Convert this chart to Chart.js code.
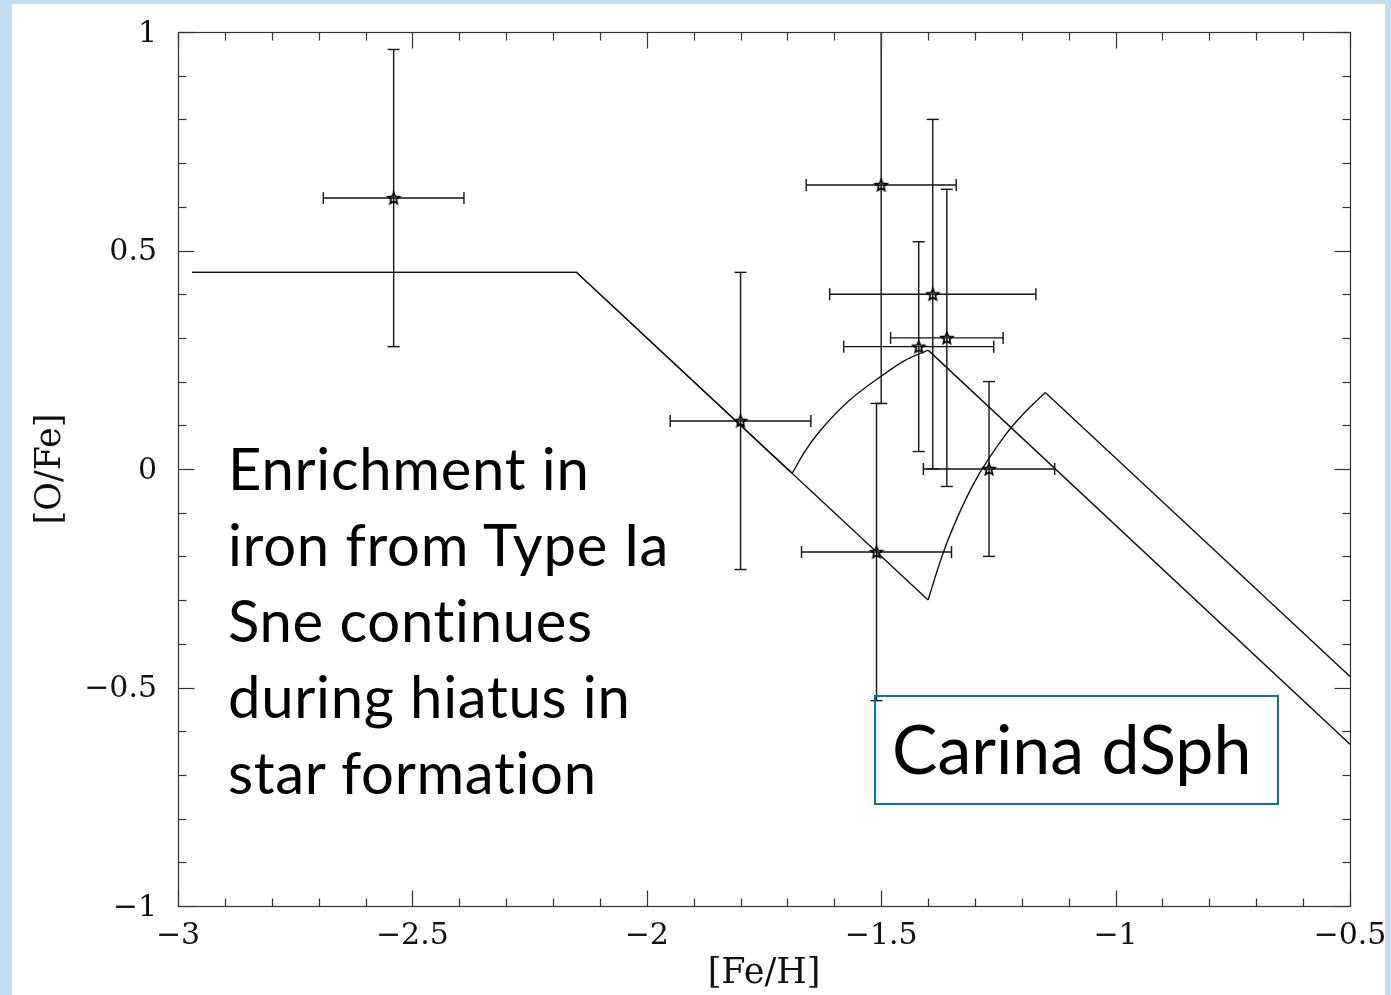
<!DOCTYPE html>
<html>
<head>
<meta charset="utf-8">
<script src="https://cdn.jsdelivr.net/npm/chart.js@4.4.1/dist/chart.umd.min.js"></script>
<style>
html,body{margin:0;padding:0;width:1391px;height:995px;overflow:hidden;background:#c5dbee;}
#paper{position:absolute;left:12px;top:4px;width:1373px;height:991px;background:#ffffff;}
#c{position:absolute;left:0;top:0;}
.note{position:absolute;font-family:Lato,"Open Sans",sans-serif;color:#000;white-space:nowrap;}
#note1{left:228px;top:430px;font-size:58px;line-height:76px;letter-spacing:0.7px;}
#note2{left:874px;top:695px;width:385px;height:106px;border:2px solid #0070c0;font-size:68px;line-height:102px;padding-left:16px;background:transparent;}
</style>
</head>
<body>
<div id="paper"></div>
<canvas id="c" width="1391" height="995"></canvas>
<div class="note" id="note1">Enrichment in<br>iron from Type Ia<br>Sne continues<br>during hiatus in<br>star formation</div>
<div class="note" id="note2">Carina dSph</div>
<script>
// ---- observed stars: [Fe/H], [O/Fe] and their errors ----
const feH    = [-2.54, -1.80, -1.50, -1.51, -1.42, -1.39, -1.36, -1.27];
const oFe    = [ 0.62,  0.11,  0.65, -0.19,  0.28,  0.40,  0.30,  0.00];
const feHErr = [ 0.15,  0.15,  0.16,  0.16,  0.16,  0.22,  0.12,  0.14];
const oFeErr = [ 0.34,  0.34,  0.50,  0.34,  0.24,  0.40,  0.34,  0.20];

// ---- model tracks (straight parts + curved rise after the hiatus) ----
const model1FeH = [-2.97, -2.15, -1.40, -1.38,  -1.357, -1.303, -1.235, -1.195, -1.15, -0.50];
const model1OFe = [ 0.45,  0.45, -0.30, -0.231, -0.161, -0.034,  0.078,  0.128,  0.175, -0.475];
const model1Rise = [2, 8];   // index range of the curved part
const model2FeH = [-2.97, -2.15, -1.69, -1.664, -1.636, -1.57, -1.49, -1.45, -1.40, -0.50];
const model2OFe = [ 0.45,  0.45, -0.01,  0.038,  0.08,   0.155, 0.22,  0.248, 0.272, -0.63];
const model2Rise = [2, 8];

// ---- axis ticks ----
const xTickValues = [-3, -2.5, -2, -1.5, -1, -0.5];
const xTickLabels = ['−3', '−2.5', '−2', '−1.5', '−1', '−0.5'];
const yTickValues = [-1, -0.5, 0, 0.5, 1];
const yTickLabels = ['−1', '−0.5', '0', '0.5', '1'];
const xMinorStep = 0.1, yMinorStep = 0.1;

const INK = '#121212';

function labelFor(values, labels, v){
  const i = values.findIndex(t => Math.abs(t - v) < 1e-6);
  return i >= 0 ? labels[i] : '';
}

function makeStar(r){
  const s = Math.ceil(2*r + 4);
  const c = document.createElement('canvas');
  c.width = s; c.height = s;
  const g = c.getContext('2d');
  g.translate(s/2, s/2 + 0.5);
  g.beginPath();
  for (let i = 0; i < 10; i++){
    const rr = (i % 2) ? r*0.45 : r;
    const a = -Math.PI/2 + i*Math.PI/5;
    g.lineTo(rr*Math.cos(a), rr*Math.sin(a));
  }
  g.closePath();
  g.strokeStyle = '#000'; g.lineWidth = 1.7; g.stroke();
  return c;
}
const starImg = makeStar(6);

const framePlugin = {
  id: 'framePlugin',
  beforeDatasetsDraw(chart){
    const {ctx, chartArea: a, scales: {x, y}} = chart;
    ctx.save();
    ctx.beginPath();
    ctx.rect(a.left, a.top, a.right - a.left, a.bottom - a.top);
    ctx.clip();
    ctx.strokeStyle = INK;
    ctx.lineWidth = 1.4;
    const cap = 6;
    const seg = (x0,y0,x1,y1) => { ctx.beginPath(); ctx.moveTo(x0,y0); ctx.lineTo(x1,y1); ctx.stroke(); };
    for (let i = 0; i < feH.length; i++){
      const px = x.getPixelForValue(feH[i]);
      const py = y.getPixelForValue(oFe[i]);
      const xl = x.getPixelForValue(feH[i] - feHErr[i]);
      const xr = x.getPixelForValue(feH[i] + feHErr[i]);
      const yt = y.getPixelForValue(oFe[i] + oFeErr[i]);
      const yb = y.getPixelForValue(oFe[i] - oFeErr[i]);
      seg(xl, py, xr, py);
      seg(xl, py - cap, xl, py + cap);
      seg(xr, py - cap, xr, py + cap);
      seg(px, yt, px, yb);
      seg(px - cap, yt, px + cap, yt);
      seg(px - cap, yb, px + cap, yb);
    }
    ctx.restore();
  },
  afterDraw(chart){
    const {ctx, chartArea: a, scales: {x, y}} = chart;
    ctx.save();
    ctx.strokeStyle = '#333';
    ctx.lineWidth = 1.2;
    const L = Math.round(a.left) + 0.5, R = Math.round(a.right) + 0.5;
    const T = Math.round(a.top) + 0.5, B = Math.round(a.bottom) + 0.5;
    ctx.strokeRect(L, T, R - L, B - T);
    const seg = (x0,y0,x1,y1) => { ctx.beginPath(); ctx.moveTo(x0,y0); ctx.lineTo(x1,y1); ctx.stroke(); };
    const nx = Math.round((x.max - x.min) / xMinorStep);
    for (let i = 0; i <= nx; i++){
      const v = x.min + i * xMinorStep;
      const px = Math.round(x.getPixelForValue(v)) + 0.5;
      const len = (i % 5 === 0) ? 16 : 8;
      seg(px, B, px, B - len);
      seg(px, T, px, T + len);
    }
    const ny = Math.round((y.max - y.min) / yMinorStep);
    for (let i = 0; i <= ny; i++){
      const v = y.min + i * yMinorStep;
      const py = Math.round(y.getPixelForValue(v)) + 0.5;
      const len = (i % 5 === 0) ? 16 : 8;
      seg(L, py, L + len, py);
      seg(R, py, R - len, py);
    }
    ctx.restore();
  }
};

const toXY = (xs, ys) => xs.map((v, i) => ({x: v, y: ys[i]}));
function sliceXY(xs, ys, from, to){ return toXY(xs.slice(from, to + 1), ys.slice(from, to + 1)); }

const lineStyle = {showLine: true, borderColor: INK, borderWidth: 1.4, pointRadius: 0, fill: false};
function modelDatasets(name, xs, ys, rise){
  const [r0, r1] = rise;
  return [
    Object.assign({label: name + ' decline', data: sliceXY(xs, ys, 0, r0), tension: 0}, lineStyle),
    Object.assign({label: name + ' rise', data: sliceXY(xs, ys, r0, r1), cubicInterpolationMode: 'monotone'}, lineStyle),
    Object.assign({label: name + ' late decline', data: sliceXY(xs, ys, r1, xs.length - 1), tension: 0}, lineStyle)
  ];
}

function zeroPad(s){ s.paddingLeft = 0; s.paddingRight = 0; s.paddingTop = 0; s.paddingBottom = 0; }

new Chart(document.getElementById('c'), {
  type: 'scatter',
  data: {
    datasets: [
      {
        label: 'Carina stars',
        data: toXY(feH, oFe),
        pointStyle: starImg,
        pointRadius: 6,
        showLine: false
      },
      ...modelDatasets('Model 1', model1FeH, model1OFe, model1Rise),
      ...modelDatasets('Model 2', model2FeH, model2OFe, model2Rise)
    ]
  },
  options: {
    responsive: false,
    animation: false,
    devicePixelRatio: 1,
    layout: {padding: {left: 0, top: 32, right: 41, bottom: 0}},
    plugins: {legend: {display: false}, tooltip: {enabled: false}},
    scales: {
      x: {
        type: 'linear', min: -3, max: -0.5,
        afterFit(s){ s.height = 89; zeroPad(s); },
        afterBuildTicks(s){ s.ticks = xTickValues.map(v => ({value: v})); },
        ticks: {
          autoSkip: false, maxRotation: 0, minRotation: 0, padding: 12,
          font: {family: 'DejaVu Serif', size: 30}, color: '#111',
          callback: v => labelFor(xTickValues, xTickLabels, v)
        },
        grid: {display: false, drawTicks: false},
        border: {display: false},
        title: {display: true, text: '[Fe/H]', color: '#111',
                font: {family: 'DejaVu Serif', size: 35}, padding: {top: 0, bottom: 0}}
      },
      y: {
        type: 'linear', min: -1, max: 1,
        afterFit(s){ s.width = 178; zeroPad(s); },
        afterBuildTicks(s){ s.ticks = yTickValues.map(v => ({value: v})); },
        ticks: {
          autoSkip: false, padding: 21, labelOffset: 2,
          font: {family: 'DejaVu Serif', size: 30}, color: '#111',
          callback: v => labelFor(yTickValues, yTickLabels, v)
        },
        grid: {display: false, drawTicks: false},
        border: {display: false},
        title: {display: true, text: '[O/Fe]', color: '#111',
                font: {family: 'DejaVu Serif', size: 35}, padding: {top: 30, bottom: 0}}
      }
    }
  },
  plugins: [framePlugin]
});
</script>
</body>
</html>
